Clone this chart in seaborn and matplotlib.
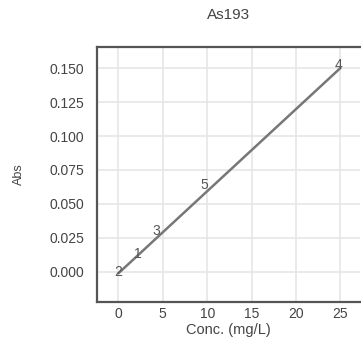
import matplotlib
matplotlib.use("Agg")
import matplotlib.pyplot as plt
import seaborn as sns

sns.set_style("whitegrid")
plt.rcParams['font.family'] = ['Liberation Sans', 'DejaVu Sans']

# calibration standards
std_ids = ["2", "1", "3", "5", "4"]
conc = [0.0, 2.2, 4.3, 9.7, 24.8]
absorb = [0.000, 0.013, 0.030, 0.064, 0.152]

# fitted line
fit_x = [0.0, 25.0]
fit_y = [-0.001, 0.150]

xticks = [0, 5, 10, 15, 20, 25]
yticks = [0.000, 0.025, 0.050, 0.075, 0.100, 0.125, 0.150]

fig = plt.figure(figsize=(3.61, 3.43), dpi=100)
ax = fig.add_axes([0.269, 0.120, 0.728, 0.743])

sns.lineplot(x=fit_x, y=fit_y, ax=ax, color="#777777", linewidth=1.8)
for sid, cx, cy in zip(std_ids, conc, absorb):
    ax.text(cx, cy, sid, ha="center", va="center", fontsize=10, color="#555555")

ax.set_xlim(-2.4, 27.2)
ax.set_ylim(-0.022, 0.1655)
ax.set_xticks(xticks)
ax.set_yticks(yticks)
ax.set_yticklabels([f"{v:.3f}" for v in yticks])
ax.tick_params(labelsize=10, colors="#444444", length=0)
ax.tick_params(axis="y", pad=9)
ax.tick_params(axis="x", pad=4)
ax.grid(True, color="#e6e6e6", linewidth=1.2)
for s in ["left", "top", "bottom"]:
    ax.spines[s].set_color("#555555")
    ax.spines[s].set_linewidth(1.6)
ax.spines["right"].set_visible(False)

ax.set_title("As193", fontsize=11, color="#444444", pad=20)
ax.set_xlabel("Conc. (mg/L)", fontsize=10.5, color="#444444", labelpad=1)
ax.set_ylabel("Abs", fontsize=9, color="#444444", labelpad=18)

fig.savefig("out.png", dpi=100)
